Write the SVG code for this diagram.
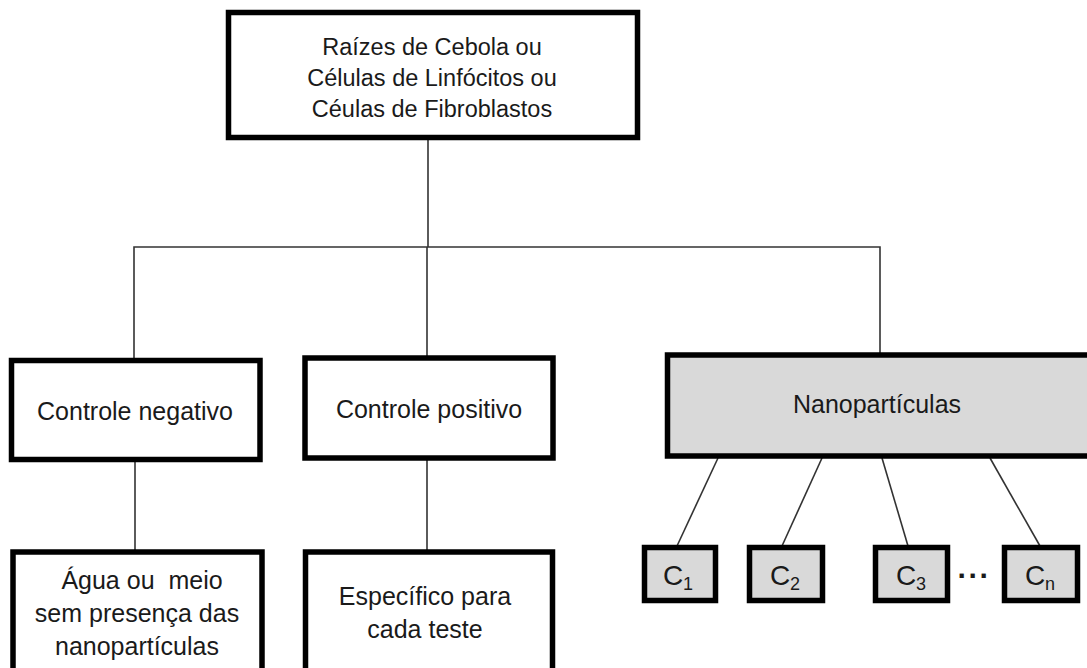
<svg xmlns="http://www.w3.org/2000/svg" width="1087" height="668" viewBox="0 0 1087 668">
<style>
.box{fill:#ffffff;stroke:#000;stroke-width:5.5}
.gbox{fill:#d9d9d9;stroke:#000;stroke-width:5.5}
.t{font-family:"Liberation Sans",Arial,sans-serif;font-size:25px;fill:#1a1a1a;text-anchor:middle}
.tt{font-family:"Liberation Sans",Arial,sans-serif;font-size:23.5px;fill:#1a1a1a;text-anchor:middle}
.c{font-family:"Liberation Sans",Arial,sans-serif;font-size:28px;fill:#1a1a1a;text-anchor:middle}
.sub{font-size:18px}
.dots{font-family:"Liberation Sans",Arial,sans-serif;font-size:30px;font-weight:bold;fill:#1a1a1a;text-anchor:middle;letter-spacing:1px}
.ln{stroke:#333;stroke-width:1.6;fill:none}
</style>
<rect width="1087" height="668" fill="#fff"/>
<g id="connectors">
<line class="ln" x1="428" y1="138" x2="428" y2="247"/>
<polyline class="ln" points="134,358 134,247 880,247 880,353"/>
<line class="ln" x1="427" y1="247" x2="427" y2="356"/>
<line class="ln" x1="135" y1="460" x2="135" y2="551"/>
<line class="ln" x1="427" y1="458" x2="427" y2="551"/>
<line class="ln" x1="718" y1="458" x2="677" y2="546"/>
<line class="ln" x1="822" y1="458" x2="782" y2="546"/>
<line class="ln" x1="882" y1="458" x2="908" y2="546"/>
<line class="ln" x1="990" y1="458" x2="1040" y2="546"/>
</g>
<g id="top">
<rect class="box" x="228.5" y="12.5" width="409" height="125"/>
<text class="tt" x="432" y="55">Raízes de Cebola ou</text>
<text class="tt" x="432" y="86">Células de Linfócitos ou</text>
<text class="tt" x="432" y="117">Céulas de Fibroblastos</text>
</g>
<g id="neg">
<rect class="box" x="11.5" y="360.5" width="248.5" height="99"/>
<text class="t" x="135" y="420">Controle negativo</text>
</g>
<g id="pos">
<rect class="box" x="305" y="358" width="248" height="100"/>
<text class="t" x="429" y="418">Controle positivo</text>
</g>
<g id="nano">
<rect class="gbox" x="667.5" y="355" width="430" height="101"/>
<text class="t" x="877" y="413">Nanopartículas</text>
</g>
<g id="agua">
<rect class="box" x="13" y="552" width="249" height="130"/>
<text class="t" x="142" y="589" xml:space="preserve">Água ou  meio</text>
<text class="t" x="137" y="622">sem presença das</text>
<text class="t" x="137" y="655">nanopartículas</text>
</g>
<g id="espec">
<rect class="box" x="305.5" y="552" width="247" height="130"/>
<text class="t" x="425" y="605">Específico para</text>
<text class="t" x="425" y="638">cada teste</text>
</g>
<g id="c1">
<rect class="gbox" x="644.5" y="547.5" width="71" height="53"/>
<text class="c" x="678" y="585">C<tspan class="sub" dy="5">1</tspan></text>
</g>
<g id="c2">
<rect class="gbox" x="749.5" y="547.5" width="73" height="53"/>
<text class="c" x="785" y="585">C<tspan class="sub" dy="5">2</tspan></text>
</g>
<g id="c3">
<rect class="gbox" x="875.5" y="547.5" width="72" height="53"/>
<text class="c" x="911" y="585">C<tspan class="sub" dy="5">3</tspan></text>
</g>
<g id="dots">
<text class="dots" x="974" y="586">···</text>
</g>
<g id="cn">
<rect class="gbox" x="1004.5" y="547.5" width="73" height="53"/>
<text class="c" x="1040" y="585">C<tspan class="sub" dy="5">n</tspan></text>
</g>
</svg>
